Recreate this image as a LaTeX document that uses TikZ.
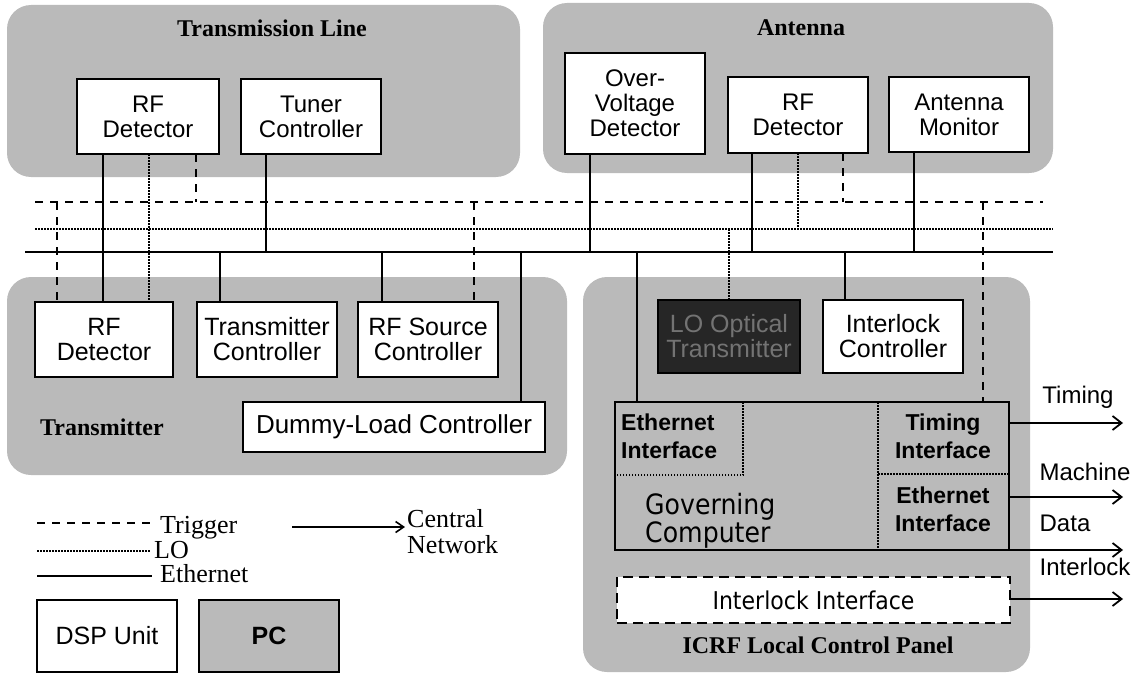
\documentclass[tikz,border=0pt]{standalone}
\usepackage{fontspec}
\setmainfont{Liberation Serif}
\setsansfont{Liberation Sans}
\newfontfamily\govfont[FakeStretch=0.9]{DejaVu Sans}
\usetikzlibrary{arrows.meta,calc}
\newcommand\bxfont[1]{\sffamily\fontsize{#1}{25}\selectfont}
\tikzset{
  region/.style={fill=black!27, draw=none, rounded corners=24pt, anchor=north west, inner sep=0pt, outer sep=0pt},
  box/.style={draw, line width=2pt, fill=white, align=center, inner sep=0pt, outer sep=0pt, anchor=north west, font=\bxfont{24}},
  lowbox/.style={box, font=\bxfont{25}},
  ttl/.style={font=\rmfamily\bfseries\fontsize{24}{25}\selectfont, inner sep=0pt},
  leg/.style={font=\rmfamily\fontsize{26}{26}\selectfont, inner sep=0pt, anchor=base west},
  govb/.style={font=\sffamily\bfseries\fontsize{23}{28}\selectfont, inner sep=0pt, align=center},
  lbl/.style={font=\sffamily\fontsize{24}{25}\selectfont, inner sep=0pt},
  ethl/.style={line width=1.8pt},
  trigl/.style={line width=1.8pt, dash pattern=on 8pt off 7pt},
  lodot/.style={line width=1.5pt, dash pattern=on 1.5pt off 1.5pt},
  arr/.style={line width=1.8pt, -{Straight Barb[length=9pt,width=14pt,line width=1.8pt]}},
  smallarr/.style={line width=1.5pt, -{Straight Barb[length=8pt,width=11pt,line width=1.6pt]}}
}
\begin{document}
\begin{tikzpicture}[x=1pt,y=-1pt]
\useasboundingbox (0,0) rectangle (1142,674);
% group regions
\node[region, minimum width=513pt, minimum height=172pt] (tlreg) at (7,5) {};
\node[region, minimum width=510pt, minimum height=170pt] (antreg) at (543,3) {};
\node[region, minimum width=560pt, minimum height=198pt] (txreg) at (7,277) {};
\node[region, minimum width=447pt, minimum height=395pt] (icrf) at (583,277) {};
% titles
\node[ttl] (tlt) at (272,28) {Transmission Line};
\node[ttl] (antt) at (801,28) {Antenna};
\node[ttl] (txt) at (102,427) {Transmitter};
\node[ttl] (icrft) at (818,645) {ICRF Local Control Panel};
% boxes
\node[box, minimum width=142pt, minimum height=75pt] (rfdT) at (77,79) {RF\\Detector};
\node[box, minimum width=140pt, minimum height=75pt] (tuner) at (241,79) {Tuner\\Controller};
\node[box, minimum width=140pt, minimum height=101pt] (ovd) at (565,53) {Over-\\Voltage\\Detector};
\node[box, minimum width=140pt, minimum height=76pt] (rfdA) at (728,77) {RF\\Detector};
\node[box, minimum width=140pt, minimum height=75pt] (amon) at (889,77) {Antenna\\Monitor};
\node[lowbox, minimum width=138pt, minimum height=75pt] (rfdX) at (35,302) {RF\\Detector};
\node[lowbox, minimum width=140pt, minimum height=75pt] (txc) at (197,302) {Transmitter\\Controller};
\node[lowbox, minimum width=140pt, minimum height=75pt] (rfsc) at (358,302) {RF Source\\Controller};
\node[box, font=\bxfont{26}, minimum width=302pt, minimum height=50pt] (dlc) at (243,402) {Dummy-Load Controller};
\node[lowbox, fill=black!85, text=black!55, minimum width=142pt, minimum height=73pt] (lo) at (658,300) {LO Optical\\Transmitter};
\node[lowbox, minimum width=140pt, minimum height=73pt] (ilc) at (823,300) {Interlock\\Controller};
\node[box, fill=none, minimum width=394pt, minimum height=148pt] (gov) at (615,402) {};
\node[box, dash pattern=on 10pt off 6pt, font=\govfont\fontsize{24.5}{25}\selectfont, minimum width=393pt, minimum height=46pt] (ilif) at (617,577) {Interlock Interface};
\node[box, font=\bxfont{25}, minimum width=140pt, minimum height=72pt] (dsp) at (37,600) {DSP Unit};
\node[box, font=\sffamily\bfseries\fontsize{25}{25}\selectfont, fill=black!27, minimum width=140pt, minimum height=72pt] (pc) at (199,600) {PC};
% bus lines
\coordinate (trigL) at (35,202); \coordinate (trigR) at (1043,202);
\coordinate (loL) at (35,229); \coordinate (loR) at (1053,229);
\coordinate (ethL) at (25,252); \coordinate (ethR) at (1053,252);
\draw[trigl] (trigL) -- (trigR);
\draw[lodot] (loL) -- (loR);
\draw[ethl] (ethL) -- (ethR);
% connection points
\coordinate (a1) at (103,154);
\coordinate (a2) at (149,154);
\coordinate (a3) at (196,154);
\coordinate (b1) at (266,154);
\coordinate (c1) at (57,202);
\coordinate (d1) at (220,252);
\coordinate (e1) at (382,252);
\coordinate (f1) at (474,202);
\coordinate (g1) at (521,252);
\coordinate (h1) at (590,154);
\coordinate (i1) at (637,252);
\coordinate (j1) at (729,229);
\coordinate (k1) at (752,153);
\coordinate (l1) at (798,153);
\coordinate (m1) at (843,153);
\coordinate (n1) at (914,152);
\coordinate (o1) at (845,252);
\coordinate (p1) at (983,202);
% verticals
\draw[ethl] (a1) -- (a1 |- rfdX.north);
\draw[lodot] (a2) -- (a2 |- rfdX.north);
\draw[trigl] (a3) -- (a3 |- trigL);
\draw[ethl] (b1) -- (b1 |- ethL);
\draw[trigl] (c1) -- (c1 |- rfdX.north);
\draw[ethl] (d1) -- (d1 |- txc.north);
\draw[ethl] (e1) -- (e1 |- rfsc.north);
\draw[trigl] (f1) -- (f1 |- rfsc.north);
\draw[ethl] (g1) -- (g1 |- dlc.north);
\draw[ethl] (h1) -- (h1 |- ethL);
\draw[ethl] (i1) -- (i1 |- gov.north);
\draw[lodot] (j1) -- (j1 |- lo.north);
\draw[ethl] (k1) -- (k1 |- ethL);
\draw[lodot] (l1) -- (l1 |- loL);
\draw[trigl] (m1) -- (m1 |- trigL);
\draw[ethl] (n1) -- (n1 |- ethL);
\draw[ethl] (o1) -- (o1 |- ilc.north);
\draw[trigl] (p1) -- (p1 |- gov.north);
% governing computer internals
\coordinate (ge1) at (743,402); \coordinate (ge2) at (743,475); \coordinate (ge3) at (615,475);
\coordinate (gr1) at (878,402); \coordinate (gr2) at (878,550);
\coordinate (gh1) at (878,474); \coordinate (gh2) at (1009,474);
\draw[lodot] (ge1) -- (ge2) -- (ge3);
\draw[lodot] (gr1) -- (gr2);
\draw[lodot] (gh1) -- (gh2);
\node[govb, align=left, anchor=west] (gei) at (621,436) {Ethernet\\Interface};
\node[govb] (gti) at (943,436) {Timing\\Interface};
\node[govb] (gei2) at (943,509) {Ethernet\\Interface};
\node[font=\govfont\fontsize{28}{25}\selectfont, inner sep=0pt, align=left, anchor=west] (gc) at (645,521) {Governing\\Computer};
% outputs
\coordinate (tA) at (1009,423); \coordinate (tB) at (1123,423);
\coordinate (mA) at (1009,497); \coordinate (mB) at (1123,497);
\coordinate (dB) at (1123,550);
\coordinate (iB) at (1123,599);
\draw[arr] (tA) -- (tB);
\draw[arr] (mA) -- (mB);
\draw[arr] (gov.south east) -- (dB);
\draw[arr] (ilif.east |- iB) -- (iB);
\node[lbl] (lt) at (1078,397) {Timing};
\node[lbl] (lm) at (1085,472) {Machine};
\node[lbl] (ld) at (1065,523) {Data};
\node[lbl] (li) at (1085,567) {Interlock};
% legend
\coordinate (lg1a) at (37,523); \coordinate (lg1b) at (152,523);
\coordinate (lg2a) at (37,551); \coordinate (lg2b) at (150,551);
\coordinate (lg3a) at (37,576); \coordinate (lg3b) at (152,576);
\draw[trigl] (lg1a) -- (lg1b);
\draw[lodot] (lg2a) -- (lg2b);
\draw[ethl] (lg3a) -- (lg3b);
\node[leg] (lgt) at (160,533) {Trigger};
\node[leg] (lgl) at (154,558) {LO};
\node[leg] (lge) at (160,582) {Ethernet};
\coordinate (cnA) at (292,527); \coordinate (cnB) at (405,527);
\draw[smallarr] (cnA) -- (cnB);
\node[leg] (cn1) at (407,527) {Central};
\node[leg] (cn2) at (407,553) {Network};
\end{tikzpicture}
\end{document}
